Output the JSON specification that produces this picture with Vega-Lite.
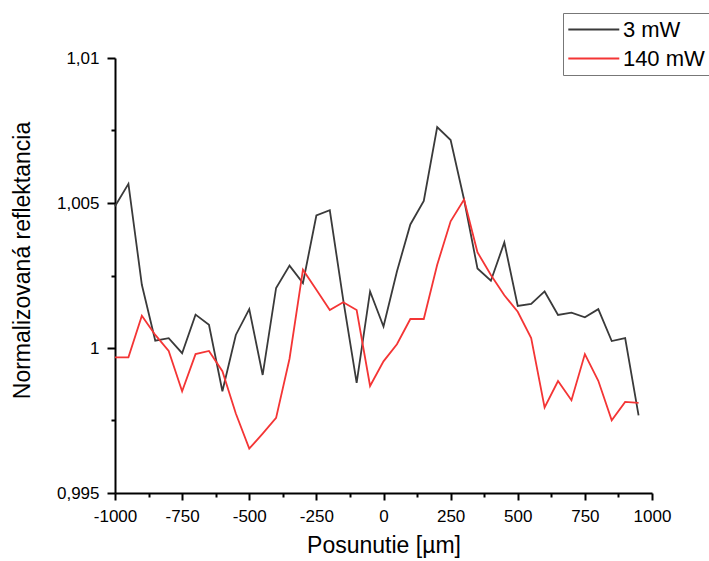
{
  "$schema": "https://vega.github.io/schema/vega-lite/v6.json",
  "autosize": {"type": "none"},
  "padding": {"left": 115, "top": 58, "right": 57, "bottom": 68},
  "width": 537,
  "height": 435,
  "background": "white",
  "config": {"view": {"stroke": null}, "font": "Liberation Sans"},
  "data": {"values": [
    {"x": -1000, "v": 1.00489, "s": "3 mW"}, {"x": -950, "v": 1.00566, "s": "3 mW"}, {"x": -900, "v": 1.00218, "s": "3 mW"}, {"x": -850, "v": 1.00025, "s": "3 mW"}, {"x": -800, "v": 1.00034, "s": "3 mW"}, {"x": -750, "v": 0.99982, "s": "3 mW"}, {"x": -700, "v": 1.00115, "s": "3 mW"}, {"x": -650, "v": 1.0008, "s": "3 mW"}, {"x": -600, "v": 0.99851, "s": "3 mW"}, {"x": -550, "v": 1.00045, "s": "3 mW"},
    {"x": -500, "v": 1.00134, "s": "3 mW"}, {"x": -450, "v": 0.99907, "s": "3 mW"}, {"x": -400, "v": 1.00207, "s": "3 mW"}, {"x": -350, "v": 1.00284, "s": "3 mW"}, {"x": -300, "v": 1.00224, "s": "3 mW"}, {"x": -250, "v": 1.00457, "s": "3 mW"}, {"x": -200, "v": 1.00475, "s": "3 mW"}, {"x": -150, "v": 1.00166, "s": "3 mW"}, {"x": -100, "v": 0.9988, "s": "3 mW"}, {"x": -50, "v": 1.00195, "s": "3 mW"},
    {"x": 0, "v": 1.00074, "s": "3 mW"}, {"x": 50, "v": 1.00264, "s": "3 mW"}, {"x": 100, "v": 1.00426, "s": "3 mW"}, {"x": 150, "v": 1.00507, "s": "3 mW"}, {"x": 200, "v": 1.00762, "s": "3 mW"}, {"x": 250, "v": 1.00717, "s": "3 mW"}, {"x": 300, "v": 1.00512, "s": "3 mW"}, {"x": 350, "v": 1.00274, "s": "3 mW"}, {"x": 400, "v": 1.00232, "s": "3 mW"}, {"x": 450, "v": 1.00364, "s": "3 mW"},
    {"x": 500, "v": 1.00145, "s": "3 mW"}, {"x": 550, "v": 1.00152, "s": "3 mW"}, {"x": 600, "v": 1.00195, "s": "3 mW"}, {"x": 650, "v": 1.00114, "s": "3 mW"}, {"x": 700, "v": 1.00122, "s": "3 mW"}, {"x": 750, "v": 1.00106, "s": "3 mW"}, {"x": 800, "v": 1.00134, "s": "3 mW"}, {"x": 850, "v": 1.00024, "s": "3 mW"}, {"x": 900, "v": 1.00034, "s": "3 mW"}, {"x": 950, "v": 0.99768, "s": "3 mW"},
    {"x": -1000, "v": 0.99968, "s": "140 mW"}, {"x": -950, "v": 0.99968, "s": "140 mW"}, {"x": -900, "v": 1.00111, "s": "140 mW"}, {"x": -850, "v": 1.00045, "s": "140 mW"}, {"x": -800, "v": 0.9999, "s": "140 mW"}, {"x": -750, "v": 0.99851, "s": "140 mW"}, {"x": -700, "v": 0.99979, "s": "140 mW"}, {"x": -650, "v": 0.9999, "s": "140 mW"}, {"x": -600, "v": 0.9992, "s": "140 mW"}, {"x": -550, "v": 0.99774, "s": "140 mW"},
    {"x": -500, "v": 0.99653, "s": "140 mW"}, {"x": -450, "v": 0.99705, "s": "140 mW"}, {"x": -400, "v": 0.99759, "s": "140 mW"}, {"x": -350, "v": 0.99963, "s": "140 mW"}, {"x": -300, "v": 1.0027, "s": "140 mW"}, {"x": -250, "v": 1.00201, "s": "140 mW"}, {"x": -200, "v": 1.00131, "s": "140 mW"}, {"x": -150, "v": 1.00158, "s": "140 mW"}, {"x": -100, "v": 1.00131, "s": "140 mW"}, {"x": -50, "v": 0.99869, "s": "140 mW"},
    {"x": 0, "v": 0.99954, "s": "140 mW"}, {"x": 50, "v": 1.00013, "s": "140 mW"}, {"x": 100, "v": 1.001, "s": "140 mW"}, {"x": 150, "v": 1.001, "s": "140 mW"}, {"x": 200, "v": 1.00287, "s": "140 mW"}, {"x": 250, "v": 1.00437, "s": "140 mW"}, {"x": 300, "v": 1.00512, "s": "140 mW"}, {"x": 350, "v": 1.0033, "s": "140 mW"}, {"x": 400, "v": 1.00252, "s": "140 mW"}, {"x": 450, "v": 1.00182, "s": "140 mW"},
    {"x": 500, "v": 1.00125, "s": "140 mW"}, {"x": 550, "v": 1.00034, "s": "140 mW"}, {"x": 600, "v": 0.99795, "s": "140 mW"}, {"x": 650, "v": 0.99886, "s": "140 mW"}, {"x": 700, "v": 0.9982, "s": "140 mW"}, {"x": 750, "v": 0.99979, "s": "140 mW"}, {"x": 800, "v": 0.99887, "s": "140 mW"}, {"x": 850, "v": 0.99751, "s": "140 mW"}, {"x": 900, "v": 0.99814, "s": "140 mW"}, {"x": 950, "v": 0.99811, "s": "140 mW"}
  ]},
  "mark": {"type": "line", "strokeWidth": 1.8, "clip": false},
  "encoding": {
    "x": {
      "field": "x", "type": "quantitative",
      "scale": {"domain": [-1000, 1000], "nice": false, "zero": false},
      "axis": {
        "title": "Posunutie [µm]",
        "values": [-1000, -875, -750, -625, -500, -375, -250, -125, 0, 125, 250, 375, 500, 625, 750, 875, 1000],
        "labelExpr": "datum.value % 250 === 0 ? replace(format(datum.value, 'd'), '−', '-') : ''",
        "grid": false,
        "domainColor": "#000", "domainWidth": 2,
        "tickColor": "#000", "tickWidth": 2,
        "tickSize": {"condition": {"test": "datum.value % 250 !== 0", "value": 4}, "value": 7},
        "labelFontSize": 17, "labelColor": "#000", "labelPadding": 8, "labelFlush": false,
        "titleFontSize": 23, "titleFontWeight": "normal", "titleColor": "#000", "titlePadding": 10
      }
    },
    "y": {
      "field": "v", "type": "quantitative",
      "scale": {"domain": [0.995, 1.01], "nice": false, "zero": false},
      "axis": {
        "title": "Normalizovaná reflektancia",
        "values": [0.995, 0.9975, 1, 1.0025, 1.005, 1.0075, 1.01],
        "labelExpr": "abs(datum.value*200 - round(datum.value*200)) > 0.01 ? '' : replace(format(datum.value, '.3~f'), '.', ',')",
        "grid": false,
        "domainColor": "#000", "domainWidth": 2,
        "tickColor": "#000", "tickWidth": 2,
        "tickSize": {"condition": {"test": "abs(datum.value*200 - round(datum.value*200)) > 0.01", "value": 4}, "value": 8},
        "labelFontSize": 17, "labelColor": "#000", "labelPadding": 8,
        "titleFontSize": 23, "titleFontWeight": "normal", "titleColor": "#000", "titlePadding": 22, "titleY": 202
      }
    },
    "color": {
      "field": "s", "type": "nominal",
      "scale": {"domain": ["3 mW", "140 mW"], "range": ["#3a3a3a", "#f43535"]},
      "legend": {
        "title": null,
        "orient": "none", "legendX": 448, "legendY": -45,
        "symbolType": "M -2.5 0 H 2.5", "symbolSize": 416, "symbolStrokeWidth": 1.8, "symbolOffset": 14.3,
        "labelFontSize": 22, "labelColor": "#000", "labelOffset": 17.6, "labelLimit": 300,
        "strokeColor": "#777", "padding": 5, "rowPadding": 6
      }
    }
  }
}
